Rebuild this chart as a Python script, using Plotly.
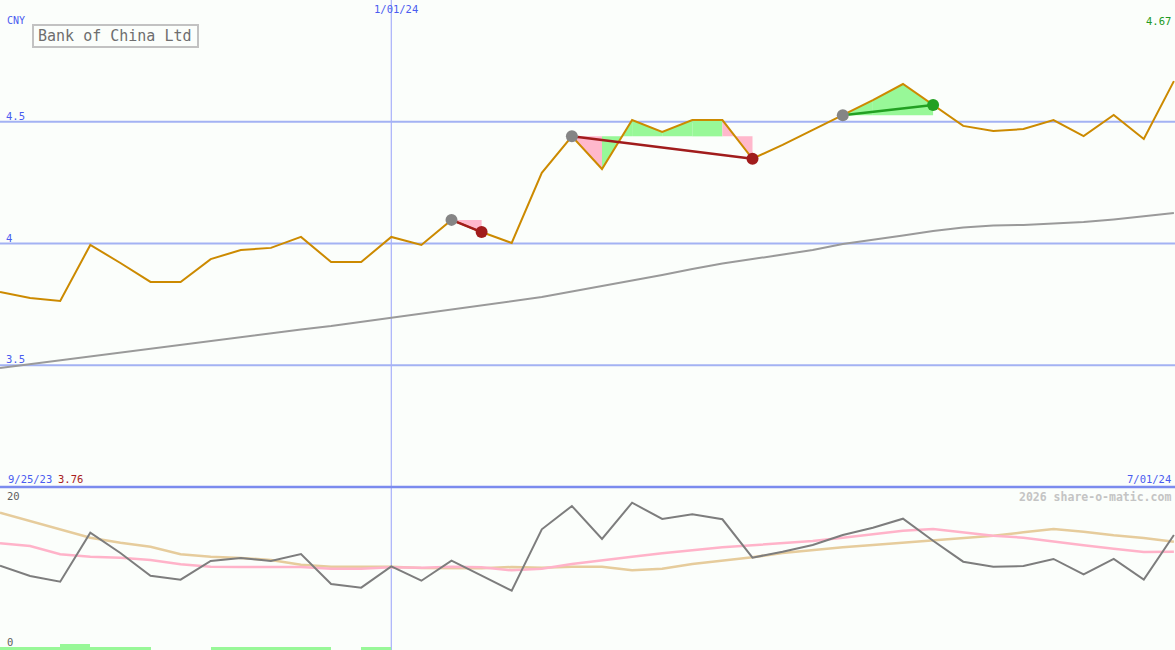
import plotly.graph_objects as go

W, H = 1175, 650

# ---------------- data ----------------
weeks = list(range(40))  # weekly bars, index 0 = 9/25/23

price = [3.801, 3.776, 3.764, 3.994, 3.920, 3.842, 3.842, 3.936, 3.973, 3.982,
         4.027, 3.924, 3.924, 4.027, 3.994, 4.097, 4.047, 4.002, 4.290, 4.440,
         4.306, 4.507, 4.458, 4.507, 4.507, 4.348, 4.405, 4.466, 4.527, 4.589,
         4.655, 4.569, 4.483, 4.462, 4.470, 4.507, 4.441, 4.528, 4.429, 4.667]

moving_avg = [3.489, 3.505, 3.519, 3.536, 3.552, 3.567, 3.583, 3.600, 3.616, 3.632,
              3.647, 3.661, 3.678, 3.694, 3.710, 3.727, 3.743, 3.762, 3.780, 3.803,
              3.825, 3.848, 3.871, 3.895, 3.918, 3.936, 3.953, 3.973, 3.998, 4.014,
              4.033, 4.051, 4.066, 4.074, 4.076, 4.082, 4.088, 4.099, 4.111, 4.125]

ind_dark = [10.54, 9.25, 8.54, 14.66, 12.13, 9.29, 8.79, 11.13, 11.50, 11.13,
            12.00, 8.25, 7.79, 10.46, 8.66, 11.16, 9.29, 7.41, 15.09, 18.00,
            13.88, 18.41, 16.38, 16.96, 16.34, 11.54, 12.29, 13.13, 14.38, 15.29,
            16.41, 13.66, 11.04, 10.41, 10.50, 11.38, 9.46, 11.38, 8.79, 14.38]

ind_pink = [13.34, 13.00, 11.96, 11.66, 11.54, 11.25, 10.71, 10.41, 10.38, 10.38,
            10.38, 10.16, 10.16, 10.34, 10.29, 10.41, 10.34, 9.96, 10.16, 10.75,
            11.16, 11.66, 12.09, 12.46, 12.84, 13.09, 13.34, 13.63, 14.04, 14.46,
            14.91, 15.13, 14.71, 14.29, 14.04, 13.54, 13.09, 12.66, 12.25, 12.29]

ind_tan = [17.16, 16.13, 15.13, 14.04, 13.41, 12.91, 11.96, 11.66, 11.50, 11.25,
           10.66, 10.41, 10.41, 10.41, 10.25, 10.21, 10.21, 10.38, 10.29, 10.41,
           10.41, 9.96, 10.16, 10.75, 11.16, 11.59, 12.13, 12.50, 12.84, 13.13,
           13.41, 13.66, 13.96, 14.29, 14.71, 15.13, 14.79, 14.34, 14.00, 13.54]

signal_bars = [0.4, 0.4, 0.8, 0.4, 0.4, 0, 0, 0.4, 0.4, 0.4,
               0.4, 0, 0.4, 0, 0, 0, 0, 0, 0, 0,
               0, 0, 0, 0, 0, 0, 0, 0, 0, 0,
               0, 0, 0, 0, 0, 0, 0, 0, 0, 0]

# trades: (entry index, exit index)
trades = [(15, 16), (19, 25), (28, 31)]

price_levels = [3.5, 4.0, 4.5]
price_level_labels = ["3.5", "4", "4.5"]
ind_levels = [0, 20]
year_mark_index = 13
title = "Bank of China Ltd"
currency = "CNY"
start_label, end_label, mid_label = "9/25/23", "7/01/24", "1/01/24"
min_label, max_label = "3.76", "4.67"

# ---------------- styling ----------------
BG = "#fbfefb"
GOLD = "#cc8a00"
GRID = "#a3b2f3"
BLUE_TXT = "#4a5cf0"
GREEN_FILL = "#98f898"
PINK_FILL = "#ffb8cc"
MONO = "DejaVu Sans Mono"

SPACING = 30.1
x_max = W / SPACING

fig = go.Figure()

# trade fills (below price line)
for e, x in trades:
    lvl = price[e]
    for k in range(e, x):
        col = GREEN_FILL if price[k + 1] >= lvl else PINK_FILL
        fig.add_trace(go.Scatter(
            x=[weeks[k], weeks[k], weeks[k + 1], weeks[k + 1], weeks[k]],
            y=[lvl, price[k], price[k + 1], lvl, lvl],
            fill="toself", fillcolor=col, mode="none",
            xaxis="x", yaxis="y", hoverinfo="skip", showlegend=False))

fig.add_trace(go.Scatter(x=weeks, y=moving_avg, mode="lines",
                         line=dict(color="#9a9a9a", width=2),
                         xaxis="x", yaxis="y", showlegend=False))
fig.add_trace(go.Scatter(x=weeks, y=price, mode="lines",
                         line=dict(color=GOLD, width=2),
                         xaxis="x", yaxis="y", showlegend=False))

# trade lines and markers
for e, x in trades:
    win = price[x] > price[e]
    col = "#22a022" if win else "#a11c1c"
    fig.add_trace(go.Scatter(x=[weeks[e], weeks[x]], y=[price[e], price[x]],
                             mode="lines", line=dict(color=col, width=2.5),
                             xaxis="x", yaxis="y", showlegend=False))
    fig.add_trace(go.Scatter(x=[weeks[e]], y=[price[e]], mode="markers",
                             marker=dict(color="#858585", size=12),
                             xaxis="x", yaxis="y", showlegend=False))
    fig.add_trace(go.Scatter(x=[weeks[x]], y=[price[x]], mode="markers",
                             marker=dict(color=col, size=12),
                             xaxis="x", yaxis="y", showlegend=False))

# lower panel
fig.add_trace(go.Bar(x=[w + 0.5 for w in weeks], y=signal_bars, width=1,
                     marker=dict(color=GREEN_FILL, line=dict(width=0)),
                     xaxis="x2", yaxis="y2", showlegend=False))
fig.add_trace(go.Scatter(x=weeks, y=ind_tan, mode="lines",
                         line=dict(color="#e6cc9c", width=2.5),
                         xaxis="x2", yaxis="y2", showlegend=False))
fig.add_trace(go.Scatter(x=weeks, y=ind_pink, mode="lines",
                         line=dict(color="#ffb3c9", width=2.5),
                         xaxis="x2", yaxis="y2", showlegend=False))
fig.add_trace(go.Scatter(x=weeks, y=ind_dark, mode="lines",
                         line=dict(color="#7d7d7d", width=2),
                         xaxis="x2", yaxis="y2", showlegend=False))

split = (H - 487) / H

shapes = []
for lv in price_levels:
    shapes.append(dict(type="line", xref="paper", yref="y", x0=0, x1=1, y0=lv, y1=lv,
                       line=dict(color=GRID, width=2), layer="below"))
shapes.append(dict(type="line", xref="x", yref="paper", x0=year_mark_index, x1=year_mark_index,
                   y0=0, y1=1, line=dict(color="#a8b0fa", width=1.2), layer="below"))
shapes.append(dict(type="line", xref="paper", yref="paper", x0=0, x1=1, y0=split, y1=split,
                   line=dict(color="#7b8bee", width=2.5)))
shapes.append(dict(type="rect", xref="paper", yref="paper",
                   x0=33 / W, x1=198 / W, y0=1 - 47 / H, y1=1 - 25 / H,
                   line=dict(color="#c2c2c2", width=2), fillcolor="rgba(0,0,0,0)"))


def px(xp):
    return xp / W


def py(yp):
    return 1 - yp / H


ann = []


def txt(t, x, y, color, size=10.5, anchor="left", bold=False):
    ann.append(dict(text=("<b>%s</b>" % t) if bold else t, x=px(x), y=py(y),
                    xref="paper", yref="paper", xanchor=anchor, yanchor="middle",
                    showarrow=False, font=dict(family=MONO, size=size, color=color)))


txt(currency, 5, 21, BLUE_TXT, size=10)
txt(title, 36, 36.5, "#6e6e6e", size=15)
txt(mid_label, 395.5, 8.5, BLUE_TXT, anchor="center")
txt(max_label, 1173, 21, "#229922", anchor="right")
ylabel_pos = {"4.5": 116, "4": 238, "3.5": 359}
for lab in price_level_labels:
    txt(lab, 4, ylabel_pos[lab], BLUE_TXT)
txt(start_label, 6, 479, BLUE_TXT)
txt(min_label, 56, 479, "#a82020")
txt(end_label, 1173, 479, BLUE_TXT, anchor="right")
txt(str(ind_levels[1]), 5, 496, "#606060")
txt(str(ind_levels[0]), 5, 642, "#606060")
txt("2026 share-o-matic.com", 1173, 496.5, "#c4c4c4", size=11.5, anchor="right", bold=True)

axis_common = dict(visible=False, showgrid=False, zeroline=False, fixedrange=True)

fig.update_layout(
    width=W, height=H,
    margin=dict(l=0, r=0, t=0, b=0),
    paper_bgcolor=BG, plot_bgcolor=BG,
    showlegend=False,
    bargap=0,
    xaxis=dict(range=[0, x_max], anchor="y", **axis_common),
    yaxis=dict(range=[3.0, 5.0], domain=[split, 1], **axis_common),
    xaxis2=dict(range=[0, x_max], anchor="y2", matches="x", **axis_common),
    yaxis2=dict(range=[0, (H - 487) / 8], domain=[0, split], **axis_common),
    shapes=shapes,
    annotations=ann,
)

fig.write_html(
    "out.html",
    config={"displayModeBar": False},
    post_script="document.body.style.margin='0';document.body.style.padding='0';"
                "document.body.style.overflow='hidden';"
                "document.documentElement.style.background='%s';" % BG,
)
